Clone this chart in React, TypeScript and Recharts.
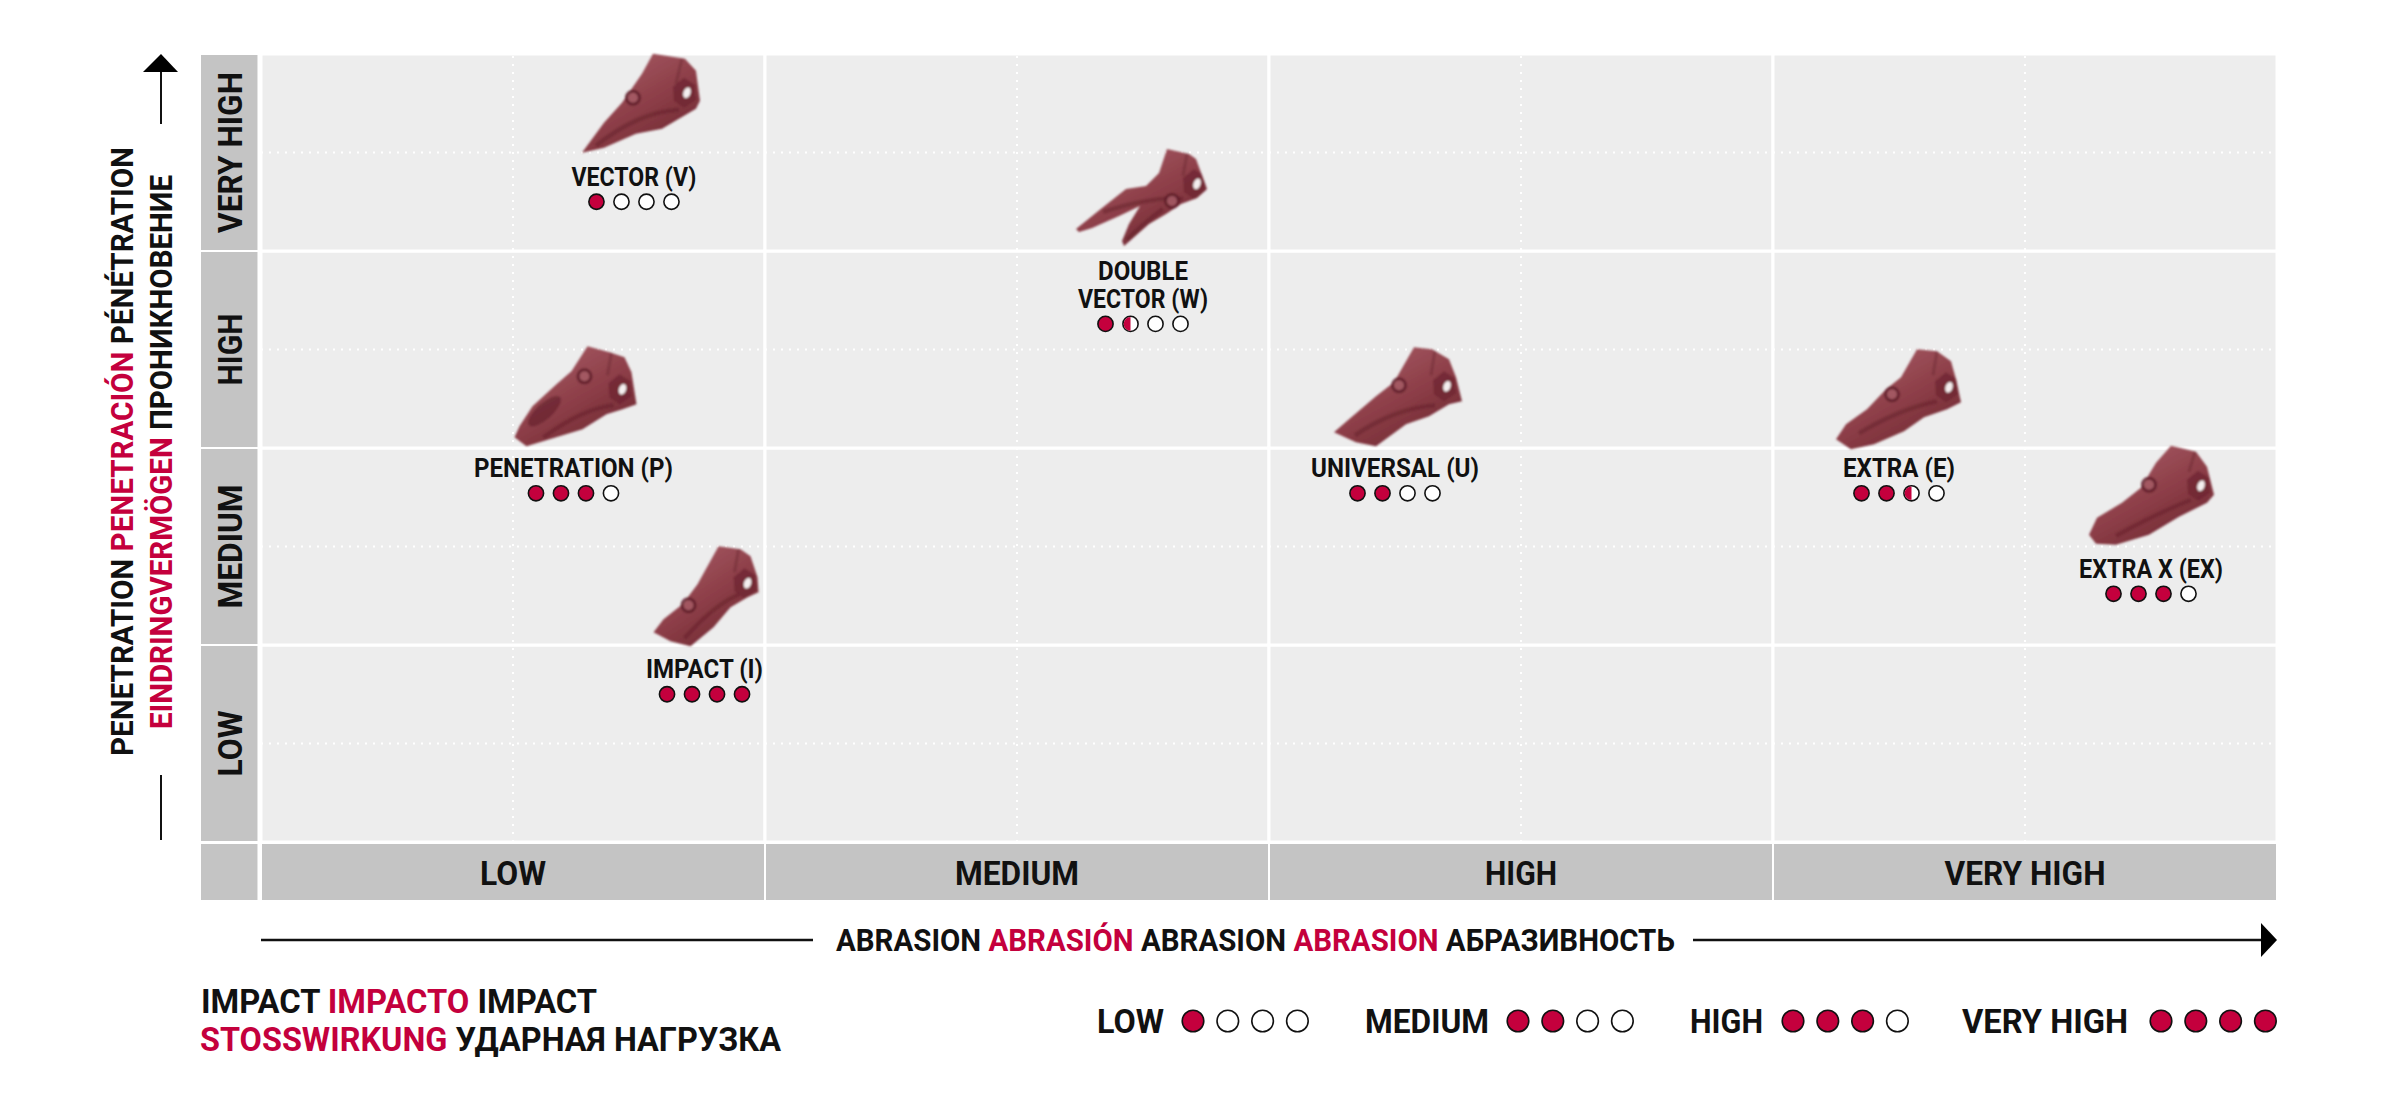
import { ScatterChart, Scatter, XAxis, YAxis, ReferenceArea, ReferenceLine } from "recharts";

const abrasionLevels = ["LOW", "MEDIUM", "HIGH", "VERY HIGH"];
const penetrationLevels = ["LOW", "MEDIUM", "HIGH", "VERY HIGH"];
const bandTicks = [0.5, 1.5, 2.5, 3.5];

const productNames = [
  ["VECTOR (V)"],
  ["DOUBLE", "VECTOR (W)"],
  ["PENETRATION (P)"],
  ["UNIVERSAL (U)"],
  ["EXTRA (E)"],
  ["EXTRA X (EX)"],
  ["IMPACT (I)"],
];
const abrasionValues = [0.74, 1.75, 0.62, 2.25, 3.25, 3.75, 0.88];
const penetrationValues = [3.25, 2.63, 1.77, 1.77, 1.77, 1.26, 0.75];
// 1 = full, 0.5 = half, 0 = empty
const impactRatings = [
  [1, 0, 0, 0],
  [1, 0.5, 0, 0],
  [1, 1, 1, 0],
  [1, 1, 0, 0],
  [1, 1, 0.5, 0],
  [1, 1, 1, 0],
  [1, 1, 1, 1],
];

const legendLabels = ["LOW", "MEDIUM", "HIGH", "VERY HIGH"];
const legendRatings = [
  [1, 0, 0, 0],
  [1, 1, 0, 0],
  [1, 1, 1, 0],
  [1, 1, 1, 1],
];

const products = productNames.map((lines, i) => ({
  lines,
  abrasion: abrasionValues[i],
  penetration: penetrationValues[i],
  rating: impactRatings[i],
  tooth: i,
}));

// tooth drawings, relative to the point of each product
const toothOutlines = [
  "-52,-49 -30,-79 -12,-99 8,-128 19,-148 51,-143 62,-131 66,-101 62,-93 28,-73 2,-68 -30,-54",
  "-67,-95 -41,-116 -17,-135 3,-138 16,-151 24,-175 46,-170 53,-165 64,-135 54,-126 38,-120 23,-110 6,-100 -19,-78 -21,-83 -14,-100 -3,-118 -24,-108 -51,-96 -64,-92",
  "-59,-56 -54,-67 -41,-87 -17,-109 -2,-122 14,-147 36,-141 51,-136 58,-121 63,-89 49,-84 33,-79 9,-64 -24,-54 -47,-47",
  "-61,-61 -46,-74 -19,-97 -1,-111 19,-146 37,-144 54,-134 61,-116 67,-92 54,-89 34,-77 11,-69 -19,-47 -39,-51",
  "-63,-54 -53,-69 -32,-84 -13,-104 2,-116 18,-144 38,-142 52,-132 57,-114 62,-91 48,-84 25,-76 5,-62 -25,-49 -48,-44",
  "-62,-59 -54,-76 -29,-91 -10,-106 5,-131 20,-148 45,-142 56,-127 63,-99 56,-91 28,-77 -2,-59 -35,-49 -55,-50",
  "-51,-62 -41,-75 -22,-90 -7,-110 14,-148 36,-145 46,-138 53,-117 54,-102 43,-97 26,-87 9,-67 -14,-48 -34,-53",
];
const toothCreases = [
  "M45,-92 Q5,-90 -38,-56",
  "M40,-125 Q10,-128 -40,-112 M20,-115 Q0,-100 -16,-84",
  "M40,-88 Q10,-85 -30,-56",
  "M40,-88 Q0,-85 -40,-58",
  "M38,-92 Q0,-84 -40,-60",
  "M40,-94 Q5,-80 -35,-58",
  "M35,-100 Q10,-90 -20,-56",
];
const toothRidges = [
  "M48,-143 L42,-118",
  "M44,-170 L40,-148",
  "M38,-141 L34,-118",
  "M40,-143 L36,-118",
  "M38,-142 L34,-118",
  "M44,-142 L38,-122",
  "M34,-145 L30,-122",
];
const toothHoles = [[53, -109], [54, -140], [49, -104], [52, -107], [50, -106], [50, -108], [43, -111]];
const toothLugs = [[-1, -104], [29, -123], [11, -117], [4, -108], [-7, -99], [-2, -109], [-16, -89]];

const FONT = "Roboto, sans-serif";
const RED = "#c4003d";
const labelWidths: Record<string, number> = {
  "VECTOR (V)": 125,
  DOUBLE: 90,
  "VECTOR (W)": 130,
  "PENETRATION (P)": 199,
  "UNIVERSAL (U)": 168,
  "EXTRA (E)": 112,
  "EXTRA X (EX)": 144,
  "IMPACT (I)": 117,
};
const bandWidths: Record<string, number> = { LOW: 66, MEDIUM: 124, HIGH: 72, "VERY HIGH": 161 };

const RatingDot = ({ cx, cy, r, value }: { cx: number; cy: number; r: number; value: number }) => (
  <g>
    <circle cx={cx} cy={cy} r={r} fill={value === 1 ? RED : "#fff"} stroke="#111" strokeWidth={1.6} />
    {value === 0.5 && (
      <path d={`M${cx} ${cy - r + 0.8} A${r - 0.8} ${r - 0.8} 0 0 0 ${cx} ${cy + r - 0.8} Z`} fill={RED} />
    )}
  </g>
);

const ToothShape = ({ cx, cy, payload }: any) => {
  const { lines, rating, tooth } = payload;
  const [hx, hy] = toothHoles[tooth];
  const [lx, ly] = toothLugs[tooth];
  const outline = toothOutlines[tooth];
  return (
    <g transform={`translate(${cx} ${cy})`}>
      <clipPath id={`toothClip${tooth}`}>
        <polygon points={outline} />
      </clipPath>
      <g filter="url(#soft)">
        <polygon points={outline} fill="url(#toothFill)" />
        <g clipPath={`url(#toothClip${tooth})`}>
          <path d={toothCreases[tooth]} fill="none" stroke="#5f1f29" strokeWidth={4.5} opacity={0.45} />
          <path d={toothRidges[tooth]} fill="none" stroke="#5f1f29" strokeWidth={3} opacity={0.35} />
          {tooth === 2 && (
            <ellipse cx={-29} cy={-82} rx={21} ry={8} fill="#6a2530" opacity={0.75} transform="rotate(-42 -29 -82)" />
          )}
          <polygon
            points={`${hx - 14},${hy - 6} ${hx - 3},${hy - 15} ${hx + 8},${hy - 8} ${hx + 9},${hy + 7} ${hx - 3},${hy + 15} ${hx - 13},${hy + 8}`}
            fill="#6c2430"
            opacity={0.7}
          />
        </g>
        <ellipse cx={hx} cy={hy} rx={3.5} ry={5.5} fill="#f4f0f0" transform={`rotate(20 ${hx} ${hy})`} />
        <circle cx={lx} cy={ly} r={6.5} fill="#a65c66" stroke="#5e1c28" strokeWidth={3} opacity={0.85} />
      </g>
      {lines.map((line: string, i: number) => (
        <text
          key={line}
          x={0}
          y={-16 - (lines.length - 1 - i) * 28}
          textAnchor="middle"
          fontFamily={FONT}
          fontWeight={700}
          fontSize={26}
          fill="#111"
          textLength={labelWidths[line]}
          lengthAdjust="spacingAndGlyphs"
        >
          {line}
        </text>
      ))}
      {rating.map((value: number, i: number) => (
        <RatingDot key={i} cx={(i - 1.5) * 25} cy={0} r={7.6} value={value} />
      ))}
    </g>
  );
};

const BottomTick = ({ x, y, payload }: any) => {
  const label = abrasionLevels[bandTicks.indexOf(payload.value)];
  return (
    <text
      x={x}
      y={y + 42.5}
      textAnchor="middle"
      fontFamily={FONT}
      fontWeight={700}
      fontSize={33}
      fill="#111"
      textLength={bandWidths[label]}
      lengthAdjust="spacingAndGlyphs"
    >
      {label}
    </text>
  );
};

const LeftTick = ({ x, y, payload }: any) => {
  const label = penetrationLevels[bandTicks.indexOf(payload.value)];
  return (
    <text
      x={0}
      y={0}
      transform={`translate(${x - 19.5} ${y}) rotate(-90)`}
      textAnchor="middle"
      fontFamily={FONT}
      fontWeight={700}
      fontSize={33}
      fill="#111"
      textLength={bandWidths[label]}
      lengthAdjust="spacingAndGlyphs"
    >
      {label}
    </text>
  );
};

const titleText = { fontFamily: FONT, fontWeight: 700, fontSize: 31, fill: "#111", lengthAdjust: "spacingAndGlyphs" } as const;

const Titles = () => (
  <g>
    {/* y axis title and arrow */}
    <text {...titleText} transform="translate(133 756) rotate(-90)" textLength={609}>
      PENETRATION <tspan fill={RED}>PENETRACIÓN</tspan> PÉNÉTRATION
    </text>
    <text {...titleText} transform="translate(172 729) rotate(-90)" textLength={554}>
      <tspan fill={RED}>EINDRINGVERMÖGEN</tspan> ПРОНИКНОВЕНИЕ
    </text>
    <line x1={161} y1={124} x2={161} y2={70} stroke="#111" strokeWidth={2} />
    <line x1={161} y1={775} x2={161} y2={840} stroke="#111" strokeWidth={2} />
    <polygon points="161,54 178,72 143,72" fill="#000" />

    {/* x axis title and arrow */}
    <text {...titleText} x={836} y={951} textLength={839}>
      ABRASION <tspan fill={RED}>ABRASIÓN</tspan> ABRASION <tspan fill={RED}>ABRASION</tspan> АБРАЗИВНОСТЬ
    </text>
    <line x1={261} y1={940} x2={813} y2={940} stroke="#111" strokeWidth={2.5} />
    <line x1={1693} y1={940} x2={2265} y2={940} stroke="#111" strokeWidth={2.5} />
    <polygon points="2277,940 2261,923 2261,957" fill="#000" />

    {/* impact legend */}
    <text {...titleText} fontSize={33} x={201} y={1013} textLength={396}>
      IMPACT <tspan fill={RED}>IMPACTO</tspan> IMPACT
    </text>
    <text {...titleText} fontSize={33} x={200} y={1051} textLength={581}>
      <tspan fill={RED}>STOSSWIRKUNG</tspan> УДАРНАЯ НАГРУЗКА
    </text>
  </g>
);

const legendTextX = [1097, 1365, 1690, 1962];
const legendTextW = [67, 124, 73, 166];
const legendDotX = [1193, 1518, 1793, 2161];

const ImpactLegend = () => (
  <g>
    {legendLabels.map((label, i) => (
      <g key={label}>
        <text {...titleText} fontSize={33} x={legendTextX[i]} y={1032.5} textLength={legendTextW[i]}>
          {label}
        </text>
        {legendRatings[i].map((value, j) => (
          <RatingDot key={j} cx={legendDotX[i] + j * 34.8} cy={1021} r={10.8} value={value} />
        ))}
      </g>
    ))}
  </g>
);

export default function App() {
  return (
    <div style={{ position: "absolute", left: 0, top: 0, width: 2400, height: 1102, background: "#fff" }}>
      <ScatterChart width={2400} height={1102} margin={{ top: 54, right: 123, bottom: 200, left: 200 }}>
        <defs>
          <linearGradient id="toothFill" x1="0.15" y1="0.1" x2="0.75" y2="0.95">
            <stop offset="0%" stopColor="#a55a63" />
            <stop offset="55%" stopColor="#8c3d47" />
            <stop offset="100%" stopColor="#702a32" />
          </linearGradient>
          <filter id="soft" x="-10%" y="-10%" width="120%" height="120%">
            <feGaussianBlur stdDeviation={0.8} />
          </filter>
        </defs>
        <XAxis
          type="number"
          dataKey="abrasion"
          domain={[0, 4]}
          ticks={bandTicks}
          interval={0}
          height={60}
          axisLine={false}
          tickLine={false}
          tickSize={0}
          tickMargin={0}
          tick={<BottomTick />}
        />
        <YAxis
          type="number"
          dataKey="penetration"
          domain={[0, 4]}
          ticks={bandTicks}
          interval={0}
          width={61}
          axisLine={false}
          tickLine={false}
          tickSize={0}
          tickMargin={0}
          tick={<LeftTick />}
        />

        {/* plot cells, the white stroke makes the solid grid lines */}
        {abrasionLevels.map((_, c) =>
          penetrationLevels.map((_, r) => (
            <ReferenceArea
              key={`cell-${c}-${r}`}
              x1={c}
              x2={c + 1}
              y1={r}
              y2={r + 1}
              fill="#ededed"
              fillOpacity={1}
              stroke="#fff"
              strokeWidth={3}
              ifOverflow="visible"
            />
          ))
        )}
        {/* grey header bands */}
        {abrasionLevels.map((_, c) => (
          <ReferenceArea
            key={`col-${c}`}
            x1={c}
            x2={c + 1}
            y1={-0.3}
            y2={-0.005}
            fill="#c4c4c4"
            fillOpacity={1}
            stroke="#fff"
            strokeWidth={2}
            ifOverflow="visible"
          />
        ))}
        {penetrationLevels.map((_, r) => (
          <ReferenceArea
            key={`row-${r}`}
            x1={-0.121}
            x2={-0.005}
            y1={r}
            y2={r + 1}
            fill="#c4c4c4"
            fillOpacity={1}
            stroke="#fff"
            strokeWidth={2}
            ifOverflow="visible"
          />
        ))}
        <ReferenceArea
          x1={-0.121}
          x2={-0.005}
          y1={-0.3}
          y2={-0.005}
          fill="#c4c4c4"
          fillOpacity={1}
          stroke="#fff"
          strokeWidth={2}
          ifOverflow="visible"
        />

        {/* dotted mid lines */}
        {bandTicks.map((t) => (
          <ReferenceLine key={`v-${t}`} x={t} stroke="#fff" strokeWidth={2} strokeDasharray="2 6" />
        ))}
        {bandTicks.map((t) => (
          <ReferenceLine key={`h-${t}`} y={t} stroke="#fff" strokeWidth={2} strokeDasharray="2 6" />
        ))}

        <Scatter data={products} shape={ToothShape} isAnimationActive={false} />

        <Titles />
        <ImpactLegend />
      </ScatterChart>
    </div>
  );
}
